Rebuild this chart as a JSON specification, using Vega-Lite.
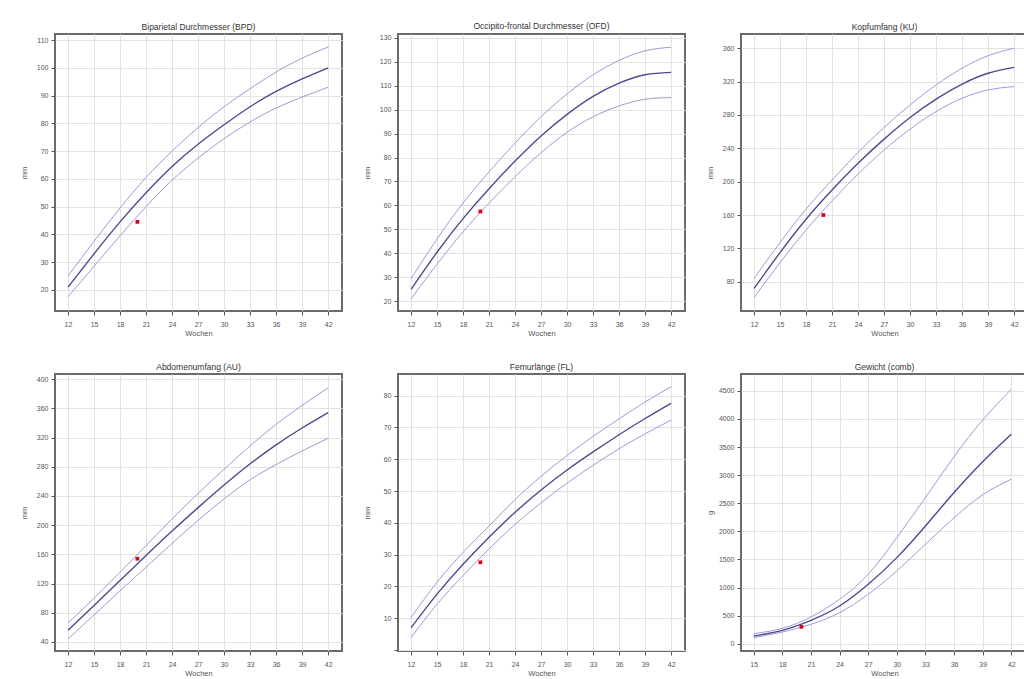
{
  "$schema": "https://vega.github.io/schema/vega-lite/v6.json",
  "background": "#ffffff",
  "padding": {"left": 19, "top": 21, "right": 0, "bottom": 0},
  "datasets": {
    "curves": [
      {"panel": "BPD", "week": 12, "lower": 17.5, "median": 21, "upper": 25},
      {"panel": "BPD", "week": 15, "lower": 28.5, "median": 33, "upper": 37.5},
      {"panel": "BPD", "week": 18, "lower": 39.5, "median": 44.5, "upper": 49.5},
      {"panel": "BPD", "week": 21, "lower": 50, "median": 55, "upper": 60.5},
      {"panel": "BPD", "week": 24, "lower": 59.5, "median": 64.5, "upper": 70},
      {"panel": "BPD", "week": 27, "lower": 67.5, "median": 72.5, "upper": 78.5},
      {"panel": "BPD", "week": 30, "lower": 74.5, "median": 79.5, "upper": 86},
      {"panel": "BPD", "week": 33, "lower": 80.5, "median": 86, "upper": 92.5},
      {"panel": "BPD", "week": 36, "lower": 85.5, "median": 91.5, "upper": 98.5},
      {"panel": "BPD", "week": 39, "lower": 89.5, "median": 96, "upper": 103.5},
      {"panel": "BPD", "week": 42, "lower": 93, "median": 100, "upper": 107.5},
      {"panel": "OFD", "week": 12, "lower": 21, "median": 25, "upper": 29.5},
      {"panel": "OFD", "week": 15, "lower": 35.5, "median": 40.5, "upper": 46},
      {"panel": "OFD", "week": 18, "lower": 49, "median": 54.5, "upper": 61},
      {"panel": "OFD", "week": 21, "lower": 61, "median": 67, "upper": 74},
      {"panel": "OFD", "week": 24, "lower": 72, "median": 78.5, "upper": 86},
      {"panel": "OFD", "week": 27, "lower": 82, "median": 89, "upper": 97},
      {"panel": "OFD", "week": 30, "lower": 90.5, "median": 98, "upper": 106.5},
      {"panel": "OFD", "week": 33, "lower": 97, "median": 105.5, "upper": 114.5},
      {"panel": "OFD", "week": 36, "lower": 101.5, "median": 111, "upper": 120.5},
      {"panel": "OFD", "week": 39, "lower": 104.3, "median": 114.5, "upper": 124.5},
      {"panel": "OFD", "week": 42, "lower": 105, "median": 115.5, "upper": 126},
      {"panel": "KU", "week": 12, "lower": 61, "median": 72, "upper": 84},
      {"panel": "KU", "week": 15, "lower": 103, "median": 115, "upper": 127},
      {"panel": "KU", "week": 18, "lower": 142, "median": 155, "upper": 167},
      {"panel": "KU", "week": 21, "lower": 177, "median": 190, "upper": 202},
      {"panel": "KU", "week": 24, "lower": 209, "median": 222, "upper": 235},
      {"panel": "KU", "week": 27, "lower": 238, "median": 251, "upper": 265},
      {"panel": "KU", "week": 30, "lower": 263, "median": 277, "upper": 292},
      {"panel": "KU", "week": 33, "lower": 284, "median": 299, "upper": 316},
      {"panel": "KU", "week": 36, "lower": 300, "median": 317, "upper": 336},
      {"panel": "KU", "week": 39, "lower": 310, "median": 330, "upper": 351},
      {"panel": "KU", "week": 42, "lower": 314, "median": 337, "upper": 360},
      {"panel": "AU", "week": 12, "lower": 44, "median": 56, "upper": 66},
      {"panel": "AU", "week": 15, "lower": 77, "median": 90, "upper": 100},
      {"panel": "AU", "week": 18, "lower": 110, "median": 124, "upper": 135.5},
      {"panel": "AU", "week": 21, "lower": 142.5, "median": 158.5, "upper": 172},
      {"panel": "AU", "week": 24, "lower": 175, "median": 192, "upper": 208.5},
      {"panel": "AU", "week": 27, "lower": 206.5, "median": 224, "upper": 243.5},
      {"panel": "AU", "week": 30, "lower": 236, "median": 255, "upper": 276.5},
      {"panel": "AU", "week": 33, "lower": 262, "median": 284, "upper": 308.5},
      {"panel": "AU", "week": 36, "lower": 283, "median": 310, "upper": 338},
      {"panel": "AU", "week": 39, "lower": 301.5, "median": 333, "upper": 364},
      {"panel": "AU", "week": 42, "lower": 319, "median": 354, "upper": 388},
      {"panel": "FL", "week": 12, "lower": 3.9, "median": 7, "upper": 10.2},
      {"panel": "FL", "week": 15, "lower": 14.4, "median": 17.6, "upper": 21.3},
      {"panel": "FL", "week": 18, "lower": 23.4, "median": 27, "upper": 30.7},
      {"panel": "FL", "week": 21, "lower": 31.8, "median": 35.5, "upper": 39},
      {"panel": "FL", "week": 24, "lower": 39.5, "median": 43.3, "upper": 47.3},
      {"panel": "FL", "week": 27, "lower": 46.3, "median": 50.3, "upper": 54.6},
      {"panel": "FL", "week": 30, "lower": 52.5, "median": 56.6, "upper": 61.2},
      {"panel": "FL", "week": 33, "lower": 58.1, "median": 62.3, "upper": 67.2},
      {"panel": "FL", "week": 36, "lower": 63.3, "median": 67.7, "upper": 72.7},
      {"panel": "FL", "week": 39, "lower": 68, "median": 72.8, "upper": 78},
      {"panel": "FL", "week": 42, "lower": 72.3, "median": 77.6, "upper": 82.8},
      {"panel": "EFW", "week": 15, "lower": 107, "median": 137, "upper": 178},
      {"panel": "EFW", "week": 18, "lower": 208, "median": 238, "upper": 273},
      {"panel": "EFW", "week": 21, "lower": 344, "median": 416, "upper": 475},
      {"panel": "EFW", "week": 24, "lower": 552, "median": 671, "upper": 790},
      {"panel": "EFW", "week": 27, "lower": 879, "median": 1057, "upper": 1235},
      {"panel": "EFW", "week": 30, "lower": 1295, "median": 1532, "upper": 1888},
      {"panel": "EFW", "week": 33, "lower": 1770, "median": 2096, "upper": 2600},
      {"panel": "EFW", "week": 36, "lower": 2240, "median": 2690, "upper": 3330},
      {"panel": "EFW", "week": 39, "lower": 2650, "median": 3240, "upper": 3980},
      {"panel": "EFW", "week": 42, "lower": 2928, "median": 3729, "upper": 4531}
    ],
    "points": [
      {"panel": "BPD", "week": 20, "value": 44.5},
      {"panel": "OFD", "week": 20, "value": 57.5},
      {"panel": "KU", "week": 20, "value": 160},
      {"panel": "AU", "week": 20, "value": 154},
      {"panel": "FL", "week": 20, "value": 27.6},
      {"panel": "EFW", "week": 20, "value": 300}
    ]
  },
  "config": {
    "font": "Liberation Sans",
    "view": {"stroke": "#6b6b6b", "strokeWidth": 2},
    "title": {"fontSize": 8.5, "fontWeight": "normal", "color": "#333333", "offset": 3, "font": "Liberation Sans"},
    "axis": {
      "domain": false,
      "tickColor": "#555555",
      "tickSize": 4,
      "labelFontSize": 7,
      "labelColor": "#555555",
      "labelOverlap": false,
      "labelBound": false,
      "titleFontSize": 7.5,
      "titleFontWeight": "normal",
      "titleColor": "#555555",
      "gridColor": "#e2e2e2",
      "gridWidth": 1
    },
    "axisX": {"labelPadding": 5, "titlePadding": 2},
    "axisY": {"labelPadding": 3, "minExtent": 24, "maxExtent": 24, "titlePadding": 3}
  },
  "spacing": {"row": 23, "column": 19},
  "concat": [
    {
      "width": 287, "height": 277,
      "title": "Biparietal Durchmesser (BPD)",
      "encoding": {
        "x": {"field": "week", "type": "quantitative", "scale": {"domain": [10.5, 43.6], "nice": false, "zero": false}, "axis": {"values": [12, 15, 18, 21, 24, 27, 30, 33, 36, 39, 42], "title": "Wochen"}},
        "y": {"field": "value", "type": "quantitative", "scale": {"domain": [12.4, 112.2], "nice": false, "zero": false}, "axis": {"values": [20, 30, 40, 50, 60, 70, 80, 90, 100, 110], "title": "mm"}}
      },
      "layer": [
        {
          "data": {"name": "curves"},
          "transform": [{"filter": "datum.panel === 'BPD'"}, {"fold": ["lower", "median", "upper"], "as": ["band", "value"]}],
          "mark": {"type": "line", "interpolate": "natural", "clip": true},
          "encoding": {
            "detail": {"field": "band"},
            "color": {"condition": {"test": "datum.band === 'median'", "value": "#4b4b8f"}, "value": "#9c9cd6"},
            "strokeWidth": {"condition": {"test": "datum.band === 'median'", "value": 1.4}, "value": 1}
          }
        },
        {
          "data": {"name": "points"},
          "transform": [{"filter": "datum.panel === 'BPD'"}],
          "mark": {"type": "square", "color": "#e0001b", "size": 14, "opacity": 1}
        }
      ]
    },
    {
      "width": 287, "height": 277,
      "title": "Occipito-frontal Durchmesser (OFD)",
      "encoding": {
        "x": {"field": "week", "type": "quantitative", "scale": {"domain": [10.5, 43.6], "nice": false, "zero": false}, "axis": {"values": [12, 15, 18, 21, 24, 27, 30, 33, 36, 39, 42], "title": "Wochen"}},
        "y": {"field": "value", "type": "quantitative", "scale": {"domain": [16, 131.5], "nice": false, "zero": false}, "axis": {"values": [20, 30, 40, 50, 60, 70, 80, 90, 100, 110, 120, 130], "title": "mm"}}
      },
      "layer": [
        {
          "data": {"name": "curves"},
          "transform": [{"filter": "datum.panel === 'OFD'"}, {"fold": ["lower", "median", "upper"], "as": ["band", "value"]}],
          "mark": {"type": "line", "interpolate": "natural", "clip": true},
          "encoding": {
            "detail": {"field": "band"},
            "color": {"condition": {"test": "datum.band === 'median'", "value": "#4b4b8f"}, "value": "#9c9cd6"},
            "strokeWidth": {"condition": {"test": "datum.band === 'median'", "value": 1.4}, "value": 1}
          }
        },
        {
          "data": {"name": "points"},
          "transform": [{"filter": "datum.panel === 'OFD'"}],
          "mark": {"type": "square", "color": "#e0001b", "size": 14, "opacity": 1}
        }
      ]
    },
    {
      "width": 287, "height": 277,
      "title": "Kopfumfang (KU)",
      "encoding": {
        "x": {"field": "week", "type": "quantitative", "scale": {"domain": [10.5, 43.6], "nice": false, "zero": false}, "axis": {"values": [12, 15, 18, 21, 24, 27, 30, 33, 36, 39, 42], "title": "Wochen"}},
        "y": {"field": "value", "type": "quantitative", "scale": {"domain": [45, 377], "nice": false, "zero": false}, "axis": {"values": [80, 120, 160, 200, 240, 280, 320, 360], "title": "mm"}}
      },
      "layer": [
        {
          "data": {"name": "curves"},
          "transform": [{"filter": "datum.panel === 'KU'"}, {"fold": ["lower", "median", "upper"], "as": ["band", "value"]}],
          "mark": {"type": "line", "interpolate": "natural", "clip": true},
          "encoding": {
            "detail": {"field": "band"},
            "color": {"condition": {"test": "datum.band === 'median'", "value": "#4b4b8f"}, "value": "#9c9cd6"},
            "strokeWidth": {"condition": {"test": "datum.band === 'median'", "value": 1.4}, "value": 1}
          }
        },
        {
          "data": {"name": "points"},
          "transform": [{"filter": "datum.panel === 'KU'"}],
          "mark": {"type": "square", "color": "#e0001b", "size": 14, "opacity": 1}
        }
      ]
    },
    {
      "width": 287, "height": 277,
      "title": "Abdomenumfang (AU)",
      "encoding": {
        "x": {"field": "week", "type": "quantitative", "scale": {"domain": [10.5, 43.6], "nice": false, "zero": false}, "axis": {"values": [12, 15, 18, 21, 24, 27, 30, 33, 36, 39, 42], "title": "Wochen"}},
        "y": {"field": "value", "type": "quantitative", "scale": {"domain": [27.6, 407], "nice": false, "zero": false}, "axis": {"values": [40, 80, 120, 160, 200, 240, 280, 320, 360, 400], "title": "mm"}}
      },
      "layer": [
        {
          "data": {"name": "curves"},
          "transform": [{"filter": "datum.panel === 'AU'"}, {"fold": ["lower", "median", "upper"], "as": ["band", "value"]}],
          "mark": {"type": "line", "interpolate": "natural", "clip": true},
          "encoding": {
            "detail": {"field": "band"},
            "color": {"condition": {"test": "datum.band === 'median'", "value": "#4b4b8f"}, "value": "#9c9cd6"},
            "strokeWidth": {"condition": {"test": "datum.band === 'median'", "value": 1.4}, "value": 1}
          }
        },
        {
          "data": {"name": "points"},
          "transform": [{"filter": "datum.panel === 'AU'"}],
          "mark": {"type": "square", "color": "#e0001b", "size": 14, "opacity": 1}
        }
      ]
    },
    {
      "width": 287, "height": 277,
      "title": "Femurlänge (FL)",
      "encoding": {
        "x": {"field": "week", "type": "quantitative", "scale": {"domain": [10.5, 43.6], "nice": false, "zero": false}, "axis": {"values": [12, 15, 18, 21, 24, 27, 30, 33, 36, 39, 42], "title": "Wochen"}},
        "y": {"field": "value", "type": "quantitative", "scale": {"domain": [-0.3, 86.8], "nice": false, "zero": false}, "axis": {"values": [0, 10, 20, 30, 40, 50, 60, 70, 80], "title": "mm", "labelExpr": "datum.value === 0 ? '' : datum.label"}}
      },
      "layer": [
        {
          "data": {"name": "curves"},
          "transform": [{"filter": "datum.panel === 'FL'"}, {"fold": ["lower", "median", "upper"], "as": ["band", "value"]}],
          "mark": {"type": "line", "interpolate": "natural", "clip": true},
          "encoding": {
            "detail": {"field": "band"},
            "color": {"condition": {"test": "datum.band === 'median'", "value": "#4b4b8f"}, "value": "#9c9cd6"},
            "strokeWidth": {"condition": {"test": "datum.band === 'median'", "value": 1.4}, "value": 1}
          }
        },
        {
          "data": {"name": "points"},
          "transform": [{"filter": "datum.panel === 'FL'"}],
          "mark": {"type": "square", "color": "#e0001b", "size": 14, "opacity": 1}
        }
      ]
    },
    {
      "width": 287, "height": 277,
      "title": "Gewicht (comb)",
      "encoding": {
        "x": {"field": "week", "type": "quantitative", "scale": {"domain": [13.67, 43.75], "nice": false, "zero": false}, "axis": {"values": [15, 18, 21, 24, 27, 30, 33, 36, 39, 42], "title": "Wochen"}},
        "y": {"field": "value", "type": "quantitative", "scale": {"domain": [-130, 4800], "nice": false, "zero": false}, "axis": {"values": [0, 500, 1000, 1500, 2000, 2500, 3000, 3500, 4000, 4500], "title": "g", "format": "d"}}
      },
      "layer": [
        {
          "data": {"name": "curves"},
          "transform": [{"filter": "datum.panel === 'EFW'"}, {"fold": ["lower", "median", "upper"], "as": ["band", "value"]}],
          "mark": {"type": "line", "interpolate": "natural", "clip": true},
          "encoding": {
            "detail": {"field": "band"},
            "color": {"condition": {"test": "datum.band === 'median'", "value": "#4b4b8f"}, "value": "#9c9cd6"},
            "strokeWidth": {"condition": {"test": "datum.band === 'median'", "value": 1.4}, "value": 1}
          }
        },
        {
          "data": {"name": "points"},
          "transform": [{"filter": "datum.panel === 'EFW'"}],
          "mark": {"type": "square", "color": "#e0001b", "size": 14, "opacity": 1}
        }
      ]
    }
  ],
  "columns": 3,
  "resolve": {"scale": {"x": "independent", "y": "independent"}}
}
